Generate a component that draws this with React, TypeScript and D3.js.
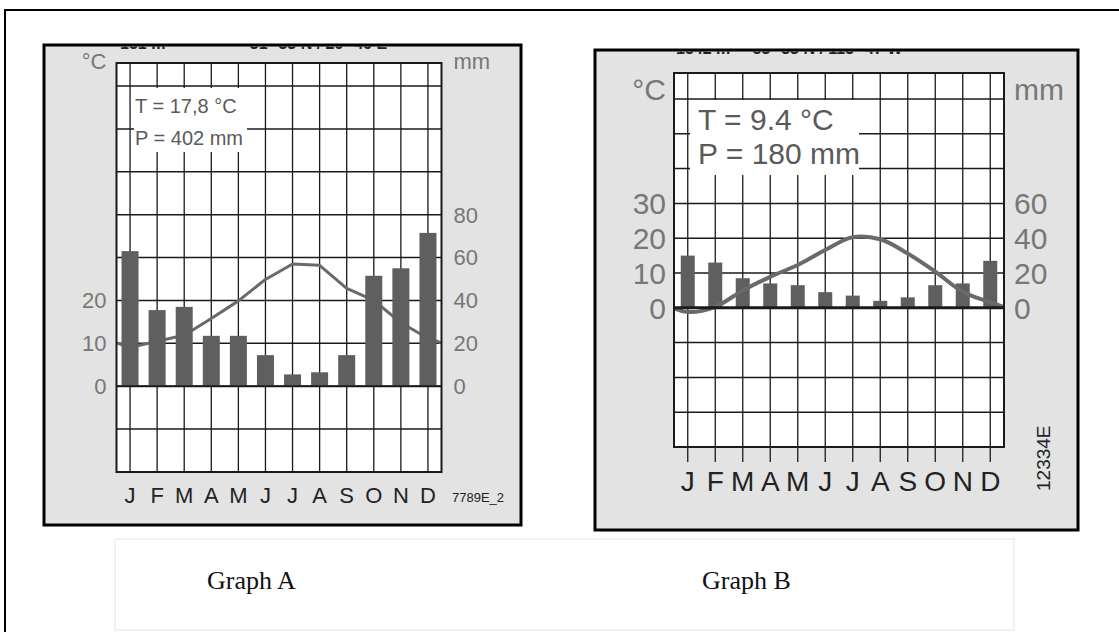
import React from "react";
import * as d3 from "d3";

// climate data
const months = ["J", "F", "M", "A", "M", "J", "J", "A", "S", "O", "N", "D"];

const precipA = [63, 35.5, 37, 23.5, 23.5, 14.5, 5.5, 6.5, 14.5, 51.5, 55, 71.5];
const tempA = [9, 10.5, 11.9, 15.8, 19.9, 24.9, 28.5, 28.2, 22.8, 20, 14.8, 11.2];
const tempTicksA = [0, 10, 20];
const precipTicksA = [0, 20, 40, 60, 80];

const precipB = [30, 26, 17, 14, 13, 9, 7, 4, 6, 13, 14, 27];
const tempB = [-1.2, 0.3, 5, 8.9, 12.3, 16.6, 20.3, 19.7, 15.6, 10.4, 4.6, 1.6];
const tempTicksB = [0, 10, 20, 30];
const precipTicksB = [0, 20, 40, 60];

const SANS = "'Liberation Sans', Arial, Helvetica, sans-serif";

const Panel = ({ cfg, temp, precip, tTicks, pTicks, id }) => {
  const x = d3.scaleLinear().domain([-0.5, 11.5]).range([cfg.left, cfg.right]);
  const yT = d3
    .scaleLinear()
    .domain([cfg.tBottom, cfg.tTop])
    .range([cfg.bottom, cfg.gridTop]);
  // precipitation axis: 20 mm matches 10 °C
  const yP = d3
    .scaleLinear()
    .domain([cfg.tBottom * 2, cfg.tTop * 2])
    .range([cfg.bottom, cfg.gridTop]);

  const gridT = d3.range(cfg.tBottom + 10, cfg.tTop + 1, 10);

  // wrap the year around so the line runs to the plot edges
  const pts = [
    { i: -1, v: temp[11] },
    ...temp.map((v, i) => ({ i, v })),
    { i: 12, v: temp[0] },
  ];
  const line = d3
    .line()
    .x((d) => x(d.i))
    .y((d) => yT(d.v))
    .curve(cfg.smooth ? d3.curveCatmullRom : d3.curveLinear);

  const tempPath = (
    <path
      d={line(pts)}
      fill="none"
      stroke="#6a6a6a"
      strokeWidth={cfg.lineWidth}
      strokeLinejoin="round"
      clipPath={`url(#plot-${id})`}
    />
  );

  const bars = precip.map((v, i) => (
    <rect
      key={i}
      x={x(i) - cfg.barWidth / 2}
      y={yP(v)}
      width={cfg.barWidth}
      height={yP(0) - yP(v)}
      fill="#5f5f5f"
    />
  ));

  return (
    <g>
      <defs>
        <clipPath id={`panel-${id}`}>
          <rect
            x={cfg.box[0]}
            y={cfg.box[1] + 1.5}
            width={cfg.box[2] - cfg.box[0]}
            height={cfg.box[3] - cfg.box[1]}
          />
        </clipPath>
        <clipPath id={`plot-${id}`}>
          <rect
            x={cfg.left}
            y={cfg.top}
            width={cfg.right - cfg.left}
            height={cfg.bottom - cfg.top}
          />
        </clipPath>
      </defs>

      <rect
        x={cfg.box[0]}
        y={cfg.box[1]}
        width={cfg.box[2] - cfg.box[0]}
        height={cfg.box[3] - cfg.box[1]}
        fill="#e3e3e3"
      />

      {/* header line cut off by the frame */}
      <text
        x={cfg.headerX}
        y={cfg.box[1] + 4}
        fontFamily={SANS}
        fontSize={16}
        fontWeight="bold"
        fill="#222"
        clipPath={`url(#panel-${id})`}
        xmlSpace="preserve"
      >
        {cfg.header}
      </text>

      <rect
        x={cfg.left}
        y={cfg.top}
        width={cfg.right - cfg.left}
        height={cfg.bottom - cfg.top}
        fill="#fff"
      />

      {months.map((m, i) => (
        <line
          key={"v" + i}
          x1={x(i)}
          x2={x(i)}
          y1={cfg.top}
          y2={cfg.bottom + cfg.tickLen}
          stroke="#1a1a1a"
          strokeWidth={1.3}
        />
      ))}
      {gridT.map((t) => (
        <line
          key={"h" + t}
          x1={cfg.left}
          x2={cfg.right}
          y1={yT(t)}
          y2={yT(t)}
          stroke="#1a1a1a"
          strokeWidth={1.5}
        />
      ))}

      <rect
        x={cfg.textBox[0]}
        y={cfg.textBox[1]}
        width={cfg.textBox[2] - cfg.textBox[0]}
        height={cfg.textBox[3] - cfg.textBox[1]}
        fill="#fff"
      />
      <text
        x={cfg.textX}
        y={cfg.textY[0]}
        fontFamily={SANS}
        fontSize={cfg.textSize}
        fill="#5a5a5a"
      >
        {cfg.tText}
      </text>
      <text
        x={cfg.textX}
        y={cfg.textY[1]}
        fontFamily={SANS}
        fontSize={cfg.textSize}
        fill="#5a5a5a"
      >
        {cfg.pText}
      </text>

      {cfg.smooth ? null : tempPath}
      {bars}
      {cfg.smooth ? tempPath : null}

      <line
        x1={cfg.left}
        x2={cfg.right}
        y1={yT(0)}
        y2={yT(0)}
        stroke="#1a1a1a"
        strokeWidth={cfg.zeroWidth}
      />
      <rect
        x={cfg.left}
        y={cfg.top}
        width={cfg.right - cfg.left}
        height={cfg.bottom - cfg.top}
        fill="none"
        stroke="#1a1a1a"
        strokeWidth={2}
      />

      {tTicks.map((t) => (
        <text
          key={"tl" + t}
          x={cfg.left - cfg.labelGap}
          y={yT(t)}
          dy="0.36em"
          textAnchor="end"
          fontFamily={SANS}
          fontSize={cfg.tickSize}
          fill="#777"
        >
          {t}
        </text>
      ))}
      {pTicks.map((p) => (
        <text
          key={"pl" + p}
          x={cfg.right + cfg.labelGap + 2}
          y={yP(p)}
          dy="0.36em"
          fontFamily={SANS}
          fontSize={cfg.tickSize}
          fill="#777"
        >
          {p}
        </text>
      ))}
      <text
        x={cfg.left - cfg.labelGap}
        y={cfg.unitY}
        textAnchor="end"
        fontFamily={SANS}
        fontSize={cfg.tickSize}
        fill="#777"
      >
        °C
      </text>
      <text
        x={cfg.right + cfg.labelGap + 2}
        y={cfg.unitY}
        fontFamily={SANS}
        fontSize={cfg.tickSize}
        fill="#777"
      >
        mm
      </text>

      {months.map((m, i) => (
        <text
          key={"m" + i}
          x={x(i)}
          y={cfg.monthY}
          textAnchor="middle"
          fontFamily={SANS}
          fontSize={cfg.monthSize}
          fill="#222"
        >
          {m}
        </text>
      ))}

      {cfg.code}

      <rect
        x={cfg.box[0]}
        y={cfg.box[1]}
        width={cfg.box[2] - cfg.box[0]}
        height={cfg.box[3] - cfg.box[1]}
        fill="none"
        stroke="#000"
        strokeWidth={3}
      />
    </g>
  );
};

const cfgA = {
  box: [44, 45, 521, 525],
  left: 116.5,
  right: 441.5,
  top: 63,
  bottom: 472,
  gridTop: 86,
  tBottom: -20,
  tTop: 70,
  tickLen: 0,
  barWidth: 17,
  lineWidth: 3,
  zeroWidth: 2,
  smooth: false,
  tickSize: 22,
  labelGap: 10,
  unitY: 69,
  monthY: 503,
  monthSize: 22,
  textBox: [134, 88, 247, 152],
  textX: 135,
  textY: [113, 145],
  textSize: 20,
  tText: "T = 17,8 °C",
  pText: "P = 402 mm",
  headerX: 120,
  header: "151 m                   31° 33 N / 29° 49 E",
  code: (
    <text x={452} y={502} fontFamily={SANS} fontSize={13} fill="#222">
      7789E_2
    </text>
  ),
};

const cfgB = {
  box: [595, 50, 1078, 530],
  left: 674,
  right: 1004,
  top: 73,
  bottom: 447,
  gridTop: 99,
  tBottom: -40,
  tTop: 60,
  tickLen: 15,
  barWidth: 14,
  lineWidth: 4,
  zeroWidth: 3,
  smooth: true,
  tickSize: 30,
  labelGap: 8,
  unitY: 100,
  monthY: 491,
  monthSize: 28,
  textBox: [690, 100, 859, 175],
  textX: 698,
  textY: [130, 164],
  textSize: 30,
  tText: "T =  9.4 °C",
  pText: "P = 180 mm",
  headerX: 676,
  header: "1542 m     53° 33 N / 113° 47 W",
  code: (
    <text
      transform="translate(1050,491) rotate(-90)"
      fontFamily={SANS}
      fontSize={19}
      fill="#222"
    >
      12334E
    </text>
  ),
};

export default function App() {
  return (
    <svg
      width={1119}
      height={632}
      style={{ position: "absolute", left: 0, top: 0, background: "#fff" }}
    >
      <rect x={5} y={10} width={1300} height={800} fill="none" stroke="#000" strokeWidth={2} />

      <Panel
        id="a"
        cfg={cfgA}
        temp={tempA}
        precip={precipA}
        tTicks={tempTicksA}
        pTicks={precipTicksA}
      />
      <Panel
        id="b"
        cfg={cfgB}
        temp={tempB}
        precip={precipB}
        tTicks={tempTicksB}
        pTicks={precipTicksB}
      />

      <rect x={115} y={539} width={899} height={91} fill="none" stroke="#eee" strokeWidth={1.5} />
      <text
        x={207}
        y={589}
        fontFamily="'Liberation Serif', 'Times New Roman', serif"
        fontSize={26}
        fill="#111"
      >
        Graph A
      </text>
      <text
        x={702}
        y={589}
        fontFamily="'Liberation Serif', 'Times New Roman', serif"
        fontSize={26}
        fill="#111"
      >
        Graph B
      </text>
    </svg>
  );
}
